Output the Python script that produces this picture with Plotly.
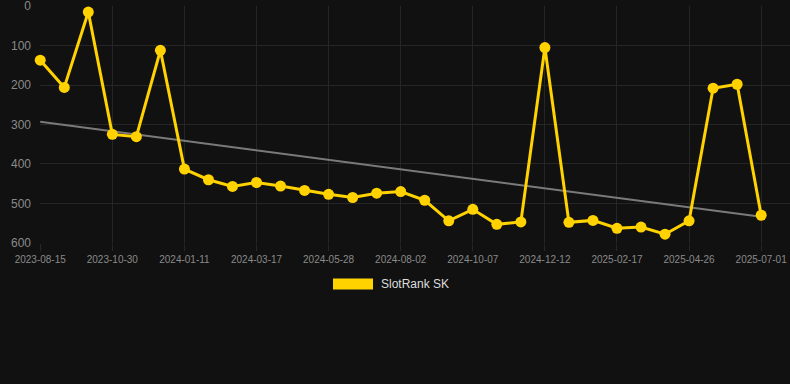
import plotly.graph_objects as go

# ---- data ----
dates = [
    "2023-08-15", "2023-09-09", "2023-10-04", "2023-10-30", "2023-11-23", "2023-12-17",
    "2024-01-11", "2024-02-02", "2024-02-24", "2024-03-17", "2024-04-10", "2024-05-04",
    "2024-05-28", "2024-06-19", "2024-07-11", "2024-08-02", "2024-08-24", "2024-09-15",
    "2024-10-07", "2024-10-29", "2024-11-20", "2024-12-12", "2025-01-03", "2025-01-25",
    "2025-02-17", "2025-03-11", "2025-04-03", "2025-04-26", "2025-05-18", "2025-06-09",
    "2025-07-01",
]
rank_values = [
    137, 206, 15, 325, 331, 112, 413, 440, 457, 447, 456, 467, 477, 485, 474, 470,
    492, 544, 515, 553, 547, 105, 548, 543, 563, 560, 578, 544, 208, 198, 530,
]
trend_dates = ["2023-08-15", "2025-07-01"]
trend_values = [293, 534]
tick_labels = [
    "2023-08-15", "2023-10-30", "2024-01-11", "2024-03-17", "2024-05-28", "2024-08-02",
    "2024-10-07", "2024-12-12", "2025-02-17", "2025-04-26", "2025-07-01",
]
y_ticks = [0, 100, 200, 300, 400, 500, 600]
series_name = "SlotRank SK"

# ---- style ----
BG = "#111111"
GRID = "#262626"
YELLOW = "#FFD200"
TREND = "#7a7a7a"
TICKFONT = "#8a8a8a"
FONT = "Liberation Sans, Arial, sans-serif"

fig = go.Figure()
fig.add_trace(go.Scatter(
    x=trend_dates, y=trend_values, mode="lines",
    line=dict(color=TREND, width=2), hoverinfo="skip", showlegend=False,
    cliponaxis=False,
))
fig.add_trace(go.Scatter(
    x=dates, y=rank_values, mode="lines+markers", name=series_name,
    line=dict(color=YELLOW, width=3),
    marker=dict(color=YELLOW, size=11),
    showlegend=False, cliponaxis=False,
))

# manual legend (swatch + text)
fig.add_shape(type="rect", xref="paper", yref="paper",
              x0=(333 - 40) / 750, x1=(373 - 40) / 750,
              y0=(243 - 278.5) / 237, y1=(243 - 289.5) / 237,
              fillcolor=YELLOW, line=dict(width=0))
fig.add_annotation(text=series_name, xref="paper", yref="paper",
                   x=(379 - 40) / 750, y=(243 - 284) / 237,
                   xanchor="left", yanchor="middle", showarrow=False,
                   font=dict(family=FONT, size=12, color="#dddddd"))

fig.update_layout(
    width=790, height=384,
    margin=dict(l=40, r=0, t=6, b=141),
    paper_bgcolor=BG, plot_bgcolor=BG,
    font=dict(family=FONT, color=TICKFONT),
    showlegend=False,
    xaxis=dict(
        type="category", categoryorder="array", categoryarray=dates,
        range=[-0.01, 31.2],
        tickmode="array", tickvals=tick_labels, ticktext=tick_labels,
        showgrid=True, gridcolor=GRID, gridwidth=1,
        ticks="outside", ticklen=7, tickcolor=GRID,
        tickfont=dict(family=FONT, size=10, color=TICKFONT),
        tickangle=0, ticklabeloverflow="allow",
        showline=False, zeroline=False,
    ),
    yaxis=dict(
        range=[600.3, -0.3], tickmode="array", tickvals=y_ticks,
        showgrid=True, gridcolor=GRID, gridwidth=1,
        tickfont=dict(family=FONT, size=12, color=TICKFONT),
        ticklabelstandoff=8, ticklabeloverflow="allow",
        showline=False, zeroline=False,
    ),
)

fig.write_html(
    "out.html",
    config={"displayModeBar": False},
    post_script="document.body.style.margin='0';document.body.style.background='#111111';",
)
